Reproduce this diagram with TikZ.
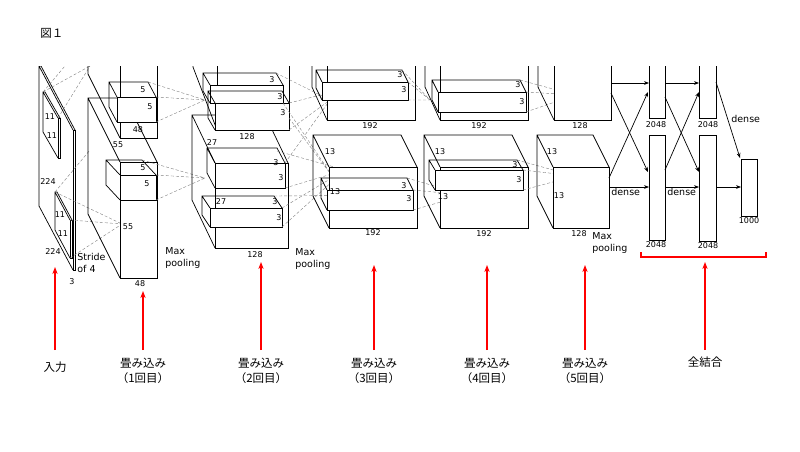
\documentclass[tikz,border=0pt]{standalone}
\usepackage{fontspec}
\setmainfont{DejaVu Sans}
\newfontfamily\jp{Noto Sans CJK JP}
\usetikzlibrary{arrows.meta}
\definecolor{myred}{RGB}{255,0,0}
\newcommand\cub[6]{%
 \draw ({#1-#5},{#4-#6}) -- ({#1-#5},{#2-#6}) -- ({#3-#5},{#2-#6}) -- (#3,#2)
   ({#1-#5},{#2-#6}) -- (#1,#2) ({#1-#5},{#4-#6}) -- (#1,#4);
 \draw[fill=white] (#1,#2) rectangle (#3,#4);}
\tikzset{num/.style={font=\fontsize{8}{9}\selectfont,inner sep=0pt},
 lab/.style={font=\fontsize{9.5}{12}\selectfont,inner sep=0pt,align=left,anchor=west},
 dl/.style={densely dashed,gray,line width=0.4pt},
 ar/.style={-{Stealth[length=5pt]},line width=0.7pt},
 redl/.style={color=myred,line width=1.4pt},
 jl/.style={font=\jp\fontsize{11.5}{15}\selectfont,align=center,inner sep=0pt}}
\begin{document}
\begin{tikzpicture}[x=1pt,y=-1pt,line width=0.7pt]
\fill[white] (0,0) rectangle (800,451);
\node[jl,anchor=west] (fig) at (40,33) {図１};
\begin{scope}
\clip (0,66) rectangle (800,451);
% input
\cub{73}{130}{75}{270}{34}{64}
\cub{58}{118}{60}{158}{15}{26}
\cub{70}{220}{72}{258}{15}{28}
\draw[dl] (43,92)--(65,66) (58,118)--(90,66) (43,92)--(90,66);
\draw[dl] (55,192)--(122,224) (70,220)--(122,224) (70,258)--(122,224) (55,192)--(90,150);
% layer 1
\cub{120}{0}{157}{138}{32}{64}
\cub{120}{162}{157}{278}{32}{64}
\cub{117}{97}{156}{122}{8}{15}
\cub{120}{175}{156}{200}{14}{15}
\draw[dl] (156,97)--(205,100) (156,122)--(205,100) (148,82)--(205,100);
\draw[dl] (156,175)--(205,178) (156,200)--(205,178) (142,160)--(205,178);
% layer 2
\cub{217}{0}{289}{130}{24}{63}
\cub{215}{163}{288}{248}{23}{48}
\cub{210}{85}{283}{103}{7}{12}
\cub{215}{103}{289}{130}{7}{12}
\cub{215}{163}{285}{188}{8}{15}
\cub{210}{208}{282}{227}{8}{12}
\draw[dl] (276,73)--(330,100) (283,103)--(335,180) (289,130)--(330,100) (289,103)--(380,80) (289,118)--(335,180);
\draw[dl] (285,163)--(330,100) (285,188)--(345,170) (277,151)--(345,170);
\draw[dl] (282,208)--(345,170) (282,227)--(345,170) (274,196)--(395,195);
% layer 3
\cub{327}{0}{415}{120}{15}{33}
\cub{329}{167}{417}{228}{16}{32}
\cub{322}{82}{408}{100}{6}{12}
\cub{327}{190}{413}{210}{6}{12}
\draw[dl] (402,70)--(430,100) (408,100)--(430,100) (408,82)--(430,100);
\draw[dl] (407,178)--(465,195) (413,190)--(465,195) (413,210)--(465,195);
% layer 4
\cub{440}{0}{528}{120}{15}{33}
\cub{440}{167}{528}{228}{16}{32}
\cub{438}{92}{526}{112}{6}{12}
\cub{435}{170}{523}{190}{6}{10}
\draw[dl] (520,80)--(575,95) (526,92)--(575,95) (526,112)--(575,95);
\draw[dl] (517,160)--(575,176) (523,170)--(575,176) (523,190)--(575,176);
% layer 5
\cub{554}{0}{611}{120}{16}{33}
\cub{553}{167}{609}{228}{16}{32}
% FC
\draw (649,0) rectangle (665,118) (699,0) rectangle (716,118);
\draw (649,135) rectangle (665,240) (699,135) rectangle (716,241);
\draw (741,159) rectangle (757,216);
\end{scope}
\draw[ar] (611,83)--(649,83);
\draw[ar] (665,83)--(699,83);
\draw[ar] (611,93)--(648,172);
\draw[ar] (609,178)--(648,92);
\draw[ar] (609,187)--(649,187);
\draw[ar] (665,187)--(699,187);
\draw[ar] (665,97)--(699,172);
\draw[ar] (665,170)--(699,92);
\draw[ar] (716,82)--(740,158);
\draw[ar] (716,187)--(741,187);
% numbers
\foreach \n/\x/\y/\t in {a/50/117/11,b/52/136/11,c/60/215/11,d/63/234/11,e/48/182/224,f/53/252/224,g/72/282/3,
 h/143/90/5,i/150/107/5,j/143/168/5,k/147/184/5,l/138/130/48,m/140/284/48,o/118/145/55,p/128/227/55,
 q/212/143/27,r/221/202/27,s/247/137/128,t/255/255/128,u1/272/80/3,u2/280/97/3,u3/283/113/3,u4/276/163/3,u5/281/178/3,u6/275/202/3,u7/279/218/3,
 v1/330/152/13,v2/335/192/13,v3/370/126/192,v4/373/233/192,v5/400/75/3,v6/404/90/3,v7/404/186/3,v8/409/199/3,
 w1/440/152/13,w2/443/197/13,w3/479/126/192,w4/484/234/192,w5/518/85/3,w6/522/102/3,w7/515/165/3,w8/519/180/3,
 x1/552/152/13,x2/559/196/13,x3/580/126/128,x4/579/234/128,
 y1/656/125/2048,y2/708/125/2048,y3/656/245/2048,y4/708/246/2048,y5/749/221/1000}
 \node[num] (n\n) at (\x,\y) {\t};
\node[lab] (sl) at (77,263) {Stride\\of 4};
\node[lab] (mp1) at (165,258) {Max\\pooling};
\node[lab] (mp2) at (295,259) {Max\\pooling};
\node[lab] (mp3) at (592,243) {Max\\pooling};
\node[lab] (d1) at (611,192) {dense};
\node[lab] (d2) at (667,192) {dense};
\node[lab] (d3) at (731,119) {dense};
% red
\foreach \x/\t in {55/267,143/291,261/262,374/265,487/265,585/265,705/262}
 \draw[redl,-{Stealth[length=7pt]}] (\x,350) -- (\x,\t);
\draw[redl] (641,252) -- (641,257) -- (766,257) -- (766,252);
\node[jl] (j0) at (55,367) {入力};
\foreach \x/\k in {143/1,261/2,374/3,487/4,585/5}
 \node[jl] (j\k) at (\x,371) {畳み込み\\（\k 回目）};
\node[jl] (j6) at (705,362) {全結合};
\end{tikzpicture}
\end{document}
